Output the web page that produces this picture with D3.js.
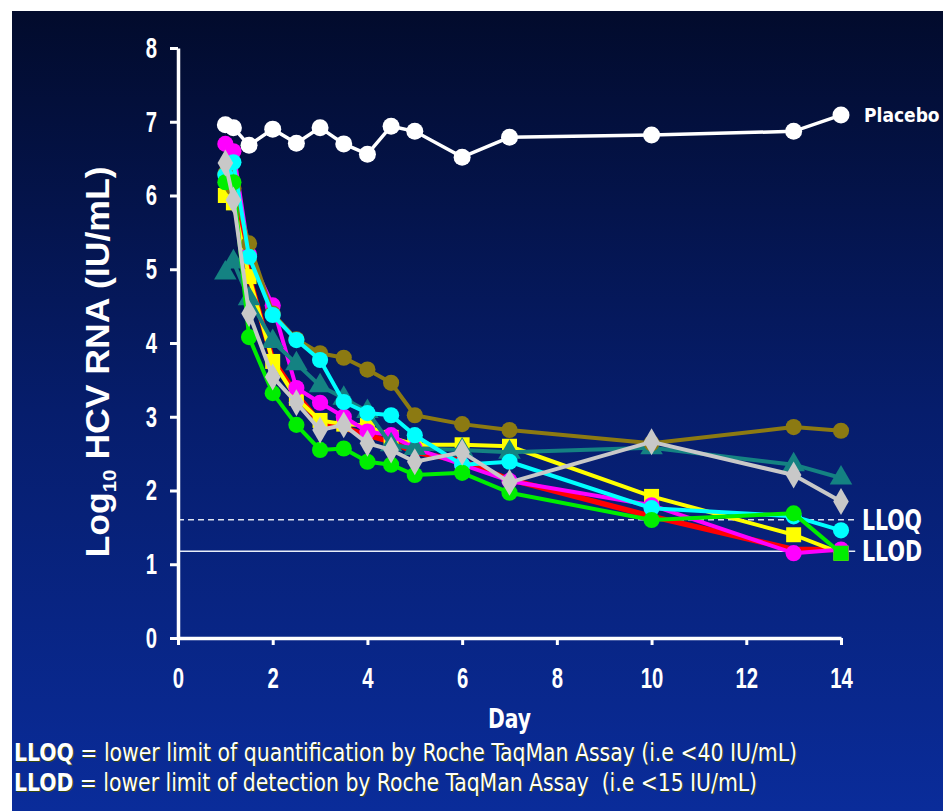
<!DOCTYPE html>
<html>
<head>
<meta charset="utf-8">
<script src="https://cdn.jsdelivr.net/npm/d3@7"></script>
<style>
  body { margin: 0; background: #fff; }
  svg { display: block; font-family: "Liberation Sans Narrow", "DejaVu Sans Condensed", "Liberation Sans", sans-serif; }
</style>
</head>
<body>
<script>
// sampling days (day 1 has two draws, pre-dose and a few hours later)
const days = [1, 1.17, 1.5, 2, 2.5, 3, 3.5, 4, 4.5, 5, 6, 7, 10, 13, 14];

const placebo = [6.96, 6.92, 6.68, 6.9, 6.71, 6.92, 6.7, 6.56, 6.94, 6.87, 6.52, 6.79, 6.82, 6.87, 7.09];
const red     = [6.57, 6.35, 4.9, 3.77, 3.3, 2.92, 2.85, 2.75, 2.66, 2.52, 2.4, 2.15, 1.65, 1.2, 1.2];
const yellow  = [6.0, 5.9, 4.9, 3.75, 3.25, 2.95, 2.9, 2.88, 2.72, 2.62, 2.62, 2.6, 1.92, 1.4, 1.15];
const magenta = [6.7, 6.6, 5.2, 4.51, 3.39, 3.19, 3.0, 2.8, 2.75, 2.57, 2.35, 2.13, 1.8, 1.15, 1.2];
const teal    = [4.95, 5.1, 4.6, 4.02, 3.72, 3.42, 3.25, 3.07, 2.62, 2.57, 2.55, 2.52, 2.58, 2.35, 2.17];
const olive   = [6.3, 6.1, 5.35, 4.4, 4.05, 3.86, 3.8, 3.64, 3.46, 3.02, 2.9, 2.82, 2.64, 2.86, 2.81];
const cyan    = [6.28, 6.45, 5.17, 4.38, 4.04, 3.77, 3.2, 3.05, 3.02, 2.75, 2.35, 2.39, 1.76, 1.65, 1.46];
const green   = [6.18, 6.18, 4.08, 3.32, 2.89, 2.55, 2.57, 2.39, 2.35, 2.21, 2.24, 1.97, 1.6, 1.69, 1.15];
const gray    = [6.44, 5.94, 4.4, 3.54, 3.19, 2.82, 2.89, 2.64, 2.55, 2.39, 2.52, 2.11, 2.66, 2.21, 1.85];

const yTicks = [0, 1, 2, 3, 4, 5, 6, 7, 8];
const xTicks = [0, 2, 4, 6, 8, 10, 12, 14];

const LLOQ = Math.log10(40);
const LLOD = Math.log10(15);

const W = 943, H = 811;
const NARROW = 0.7;

const series = [
  { name: 'red',     values: red,     color: '#ff0000', shape: null },
  { name: 'yellow',  values: yellow,  color: '#ffff00', shape: d3.symbolSquare },
  { name: 'magenta', values: magenta, color: '#ff00ff', shape: d3.symbolCircle },
  { name: 'teal',    values: teal,    color: '#148282', shape: d3.symbolTriangle },
  { name: 'olive',   values: olive,   color: '#8c7a12', shape: d3.symbolCircle },
  { name: 'cyan',    values: cyan,    color: '#00ffff', shape: d3.symbolCircle },
  { name: 'green',   values: green,   color: '#00ee00', shape: d3.symbolCircle, last: d3.symbolSquare },
  { name: 'gray',    values: gray,    color: '#c8c8c8', shape: d3.symbolDiamond }
];

const svg = d3.select('body').append('svg')
  .attr('width', W)
  .attr('height', H);

const defs = svg.append('defs');
const grad = defs.append('linearGradient')
  .attr('id', 'bg')
  .attr('x1', 0).attr('y1', 0).attr('x2', 0).attr('y2', 1);
grad.append('stop').attr('offset', '0%').attr('stop-color', '#020b2c');
grad.append('stop').attr('offset', '50%').attr('stop-color', '#061d6c');
grad.append('stop').attr('offset', '100%').attr('stop-color', '#0a2c9a');

svg.append('rect').attr('width', W).attr('height', H).attr('fill', '#fff');
svg.append('rect')
  .attr('x', 12).attr('y', 11)
  .attr('width', W - 12).attr('height', H - 11)
  .attr('fill', 'url(#bg)');

const x = d3.scaleLinear().domain([0, 14]).range([178, 841]);
const y = d3.scaleLinear().domain([0, 8]).range([638, 48]);

// limit lines
svg.append('line')
  .attr('x1', x(0)).attr('x2', x(14.3))
  .attr('y1', y(LLOQ)).attr('y2', y(LLOQ))
  .attr('stroke', '#dde4f0').attr('stroke-width', 1.5)
  .attr('stroke-dasharray', '6,4');
svg.append('line')
  .attr('x1', x(0)).attr('x2', x(14.3))
  .attr('y1', y(LLOD)).attr('y2', y(LLOD))
  .attr('stroke', '#e8eef8').attr('stroke-width', 1.5);

// axes
const yAxis = svg.append('g')
  .attr('transform', `translate(${x(0)},0)`)
  .call(d3.axisLeft(y).tickValues(yTicks).tickFormat(d3.format('d'))
    .tickSize(8).tickSizeOuter(0).tickPadding(12));

const xAxis = svg.append('g')
  .attr('transform', `translate(0,${y(0)})`)
  .call(d3.axisBottom(x).tickValues(xTicks).tickFormat(d3.format('d'))
    .tickSize(7).tickSizeOuter(0).tickPadding(22));

for (let a of [yAxis, xAxis]) {
  a.select('.domain').attr('stroke', '#fff').attr('stroke-width', 3.5);
  a.selectAll('.tick line').attr('stroke', '#fff').attr('stroke-width', 3);
  a.selectAll('.tick text')
    .attr('fill', '#fff')
    .attr('font-size', 29)
    .attr('font-weight', 'bold')
    .attr('transform', `scale(${NARROW},1)`);
}
// keep the right edge of the narrowed y labels at the same spot
yAxis.selectAll('.tick text').attr('x', -21 / NARROW);

const line = d3.line()
  .x(d => x(d[0]))
  .y(d => y(d[1]));

const plot = svg.append('g');

for (let s of series) {
  const pts = days.map((d, i) => [d, s.values[i]]);
  const g = plot.append('g').attr('class', `series-${s.name}`);

  g.append('path')
    .datum(pts)
    .attr('d', line)
    .attr('fill', 'none')
    .attr('stroke', s.color)
    .attr('stroke-width', s.shape ? 4 : 5.5)
    .attr('stroke-linejoin', 'round');

  if (!s.shape) continue;

  g.selectAll('path.mark')
    .data(pts)
    .enter().append('path')
    .attr('class', 'mark')
    .attr('transform', d => `translate(${x(d[0])},${y(d[1])})`)
    .attr('d', (d, i) => {
      const shape = (i === pts.length - 1 && s.last) ? s.last : s.shape;
      const size = shape === d3.symbolCircle ? 205 :
            shape === d3.symbolSquare ? 225 :
            shape === d3.symbolDiamond ? 210 : 220;
      return d3.symbol(shape, size)();
    })
    .attr('fill', s.color);
}

// placebo on top
const ppts = days.map((d, i) => [d, placebo[i]]);
const pg = plot.append('g').attr('class', 'series-placebo');
pg.append('path')
  .datum(ppts)
  .attr('d', line)
  .attr('fill', 'none')
  .attr('stroke', '#fff')
  .attr('stroke-width', 3.5);
pg.selectAll('circle')
  .data(ppts)
  .enter().append('circle')
  .attr('cx', d => x(d[0]))
  .attr('cy', d => y(d[1]))
  .attr('r', 8.5)
  .attr('fill', '#fff');

// right-hand labels
svg.append('text')
  .attr('x', 864).attr('y', y(placebo[placebo.length - 1]) + 7)
  .attr('fill', '#fff').attr('font-size', 19).attr('font-weight', 'bold')
  .text('Placebo');

for (let [lbl, v] of [['LLOQ', LLOQ], ['LLOD', LLOD]]) {
  svg.append('text')
    .attr('x', 862).attr('y', y(v) + 10)
    .attr('fill', '#fff').attr('font-size', 28).attr('font-weight', 'bold')
    .attr('textLength', 60).attr('lengthAdjust', 'spacingAndGlyphs')
    .text(lbl);
}

// axis titles
svg.append('text')
  .attr('x', x(7)).attr('y', 728)
  .attr('text-anchor', 'middle')
  .attr('fill', '#fff').attr('font-size', 27).attr('font-weight', 'bold')
  .attr('textLength', 43).attr('lengthAdjust', 'spacingAndGlyphs')
  .text('Day');

const yt = svg.append('text')
  .attr('transform', 'translate(109,362) rotate(-90)')
  .attr('text-anchor', 'middle')
  .attr('fill', '#fff').attr('font-size', 33).attr('font-weight', 'bold')
  .attr('textLength', 391).attr('lengthAdjust', 'spacingAndGlyphs')
  .attr('font-family', '"Liberation Sans", Arial, sans-serif');
yt.append('tspan').text('Log');
yt.append('tspan').attr('font-size', 19).attr('dy', 7).text('10');
yt.append('tspan').attr('dy', -7).text(' HCV RNA (IU/mL)');

// footnotes
const notes = [
  ['LLOQ', ' = lower limit of quantification by Roche TaqMan Assay (i.e <40 IU/mL)', 783],
  ['LLOD', ' = lower limit of detection by Roche TaqMan Assay  (i.e <15 IU/mL)', 743]
];

notes.forEach((n, i) => {
  const t = svg.append('text')
    .attr('x', 14).attr('y', 761 + i * 30)
    .attr('fill', '#fff').attr('font-size', 24)
    .attr('textLength', n[2]).attr('lengthAdjust', 'spacingAndGlyphs')
    .style('white-space', 'pre')
    .style('text-shadow', '1px 1px 0 #3a4a10');
  t.append('tspan').attr('font-weight', 'bold').text(n[0]);
  t.append('tspan').text(n[1]);
});
</script>
</body>
</html>
